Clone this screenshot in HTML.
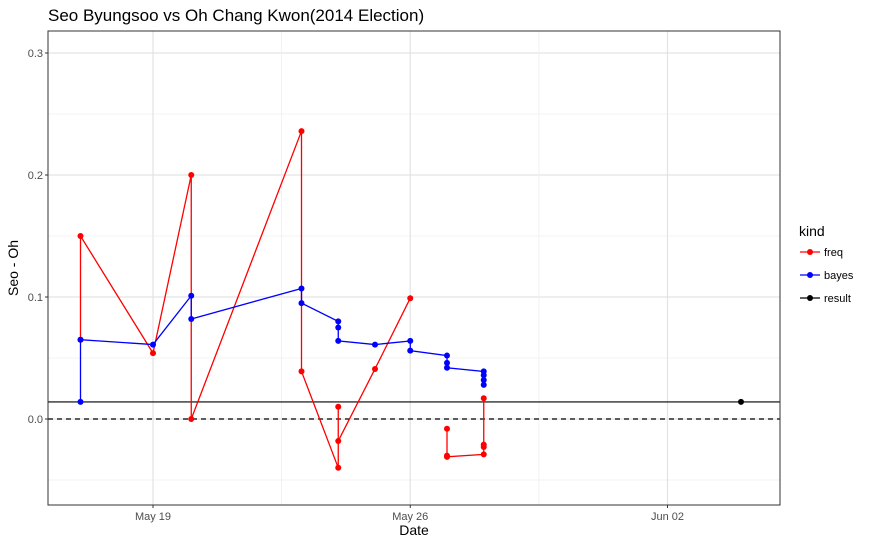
<!DOCTYPE html>
<html><head><meta charset="utf-8"><style>
body{margin:0;background:#fff;font-family:"Liberation Sans",sans-serif}
</style></head><body>
<svg id="c" width="871" height="542" xmlns="http://www.w3.org/2000/svg" font-family="Liberation Sans, sans-serif">
<text x="48" y="21" font-size="17" fill="#000">Seo Byungsoo vs Oh Chang Kwon(2014 Election)</text>
<g id="grid"></g>
<g id="marks"></g>
<rect x="48" y="31" width="732" height="474" fill="none" stroke="#333" stroke-width="1"/>
<g id="axes" font-size="11" fill="#4d4d4d"></g>
<text x="414" y="535" font-size="14" text-anchor="middle">Date</text>
<text transform="translate(18,268) rotate(-90)" font-size="14" text-anchor="middle">Seo - Oh</text>
<g>
<text x="799" y="236" font-size="14">kind</text>
<g><line x1="800" x2="820" y1="252" y2="252" stroke="#f00" stroke-width="1.3"/><circle cx="810" cy="252" r="3" fill="#f00"/><text x="824" y="256" font-size="11">freq</text></g>
<g><line x1="800" x2="820" y1="275" y2="275" stroke="#00f" stroke-width="1.3"/><circle cx="810" cy="275" r="3" fill="#00f"/><text x="824" y="279" font-size="11">bayes</text></g>
<g><line x1="800" x2="820" y1="298" y2="298" stroke="#000" stroke-width="1.3"/><circle cx="810" cy="298" r="3" fill="#000"/><text x="824" y="302" font-size="11">result</text></g>
</g>
</svg>
<script>
// days offset from May 19
const freqSeg1Days=[-2,-2,0,1,1,4,4,5,5,5,6,7];
const freqSeg1Vals=[0.065,0.15,0.054,0.2,0,0.236,0.039,-0.04,0.01,-0.018,0.041,0.099];
const freqSeg2Days=[8,8,8,9,9,9,9];
const freqSeg2Vals=[-0.008,-0.03,-0.031,-0.029,-0.023,-0.021,0.017];
const bayesDays=[-2,-2,0,1,1,4,4,5,5,5,6,7,7,8,8,8,9,9,9,9];
const bayesVals=[0.014,0.065,0.061,0.101,0.082,0.107,0.095,0.080,0.075,0.064,0.061,0.064,0.056,0.052,0.046,0.042,0.039,0.036,0.032,0.028];
const resultDays=[16];
const resultVals=[0.014];
const resultLine=0.014;
const yTicks=[0,0.1,0.2,0.3];
const yTickLabels=["0.0","0.1","0.2","0.3"];
const xTicks=[0,7,14];
const xTickLabels=["May 19","May 26","Jun 02"];

const NS="http://www.w3.org/2000/svg";
const X=d=>153+d*36.75+(d<0?1:d>0&&d<7?1.5:0);
const Y=v=>419-v*1220;
const L=48,R=780,T=31,B=505;
function mk(tag,attrs,parent){const e=document.createElementNS(NS,tag);for(const k in attrs)e.setAttribute(k,attrs[k]);parent.appendChild(e);return e;}
const grid=document.getElementById('grid'),marks=document.getElementById('marks'),axes=document.getElementById('axes');
mk('rect',{x:L,y:T,width:R-L,height:B-T,fill:'#fff'},grid);
for(let v=-0.05;v<=0.31;v+=0.05){const y=Y(v);if(y<T||y>B)continue;const major=Math.abs(v*10-Math.round(v*10))<1e-6;
 const l=mk('line',{x1:L,x2:R,y1:y,y2:y,stroke:major?'#e3e3e3':'#efefef','stroke-width':major?1.2:0.8},grid);
 
 }
for(let d=-3.5;d<=17;d+=3.5){const x=153+d*36.75;if(x<L||x>R)continue;const major=Math.abs(d%7)<1e-6;
 const l=mk('line',{x1:x,x2:x,y1:T,y2:B,stroke:major?'#e3e3e3':'#efefef','stroke-width':major?1.2:0.8},grid);
 
 }
yTicks.forEach((v,i)=>{const y=Y(v);
 mk('line',{x1:L-3,x2:L,y1:y,y2:y,stroke:'#333'},axes);
 const t=mk('text',{x:L-5,y:y+4,'text-anchor':'end'},axes);t.textContent=yTickLabels[i];
 
 });
xTicks.forEach((d,i)=>{const x=153+d*36.75;
 mk('line',{x1:x,x2:x,y1:B,y2:B+3,stroke:'#333'},axes);
 const t=mk('text',{x:x,y:B+15,'text-anchor':'middle'},axes);t.textContent=xTickLabels[i];
 
 });
function series(days,vals,color,name,line){
 if(line){const p=mk('polyline',{points:days.map((d,i)=>X(d)+','+Y(vals[i])).join(' '),fill:'none',stroke:color,'stroke-width':1.3},marks);
  
  }
 days.forEach((d,i)=>{const c=mk('circle',{cx:X(d),cy:Y(vals[i]),r:3,fill:color},marks);
  
  });
}
const h1=mk('line',{x1:L,x2:R,y1:Y(resultLine),y2:Y(resultLine),stroke:'#000','stroke-width':1.2},marks);


const h0=mk('line',{x1:L,x2:R,y1:Y(0),y2:Y(0),stroke:'#000','stroke-width':1.2,'stroke-dasharray':'5,4'},marks);


series(freqSeg1Days,freqSeg1Vals,'#f00','freq',true);
series(freqSeg2Days,freqSeg2Vals,'#f00','freq',true);
series(bayesDays,bayesVals,'#00f','bayes',true);
series(resultDays,resultVals,'#000','result',false);
</script>
</body></html>
